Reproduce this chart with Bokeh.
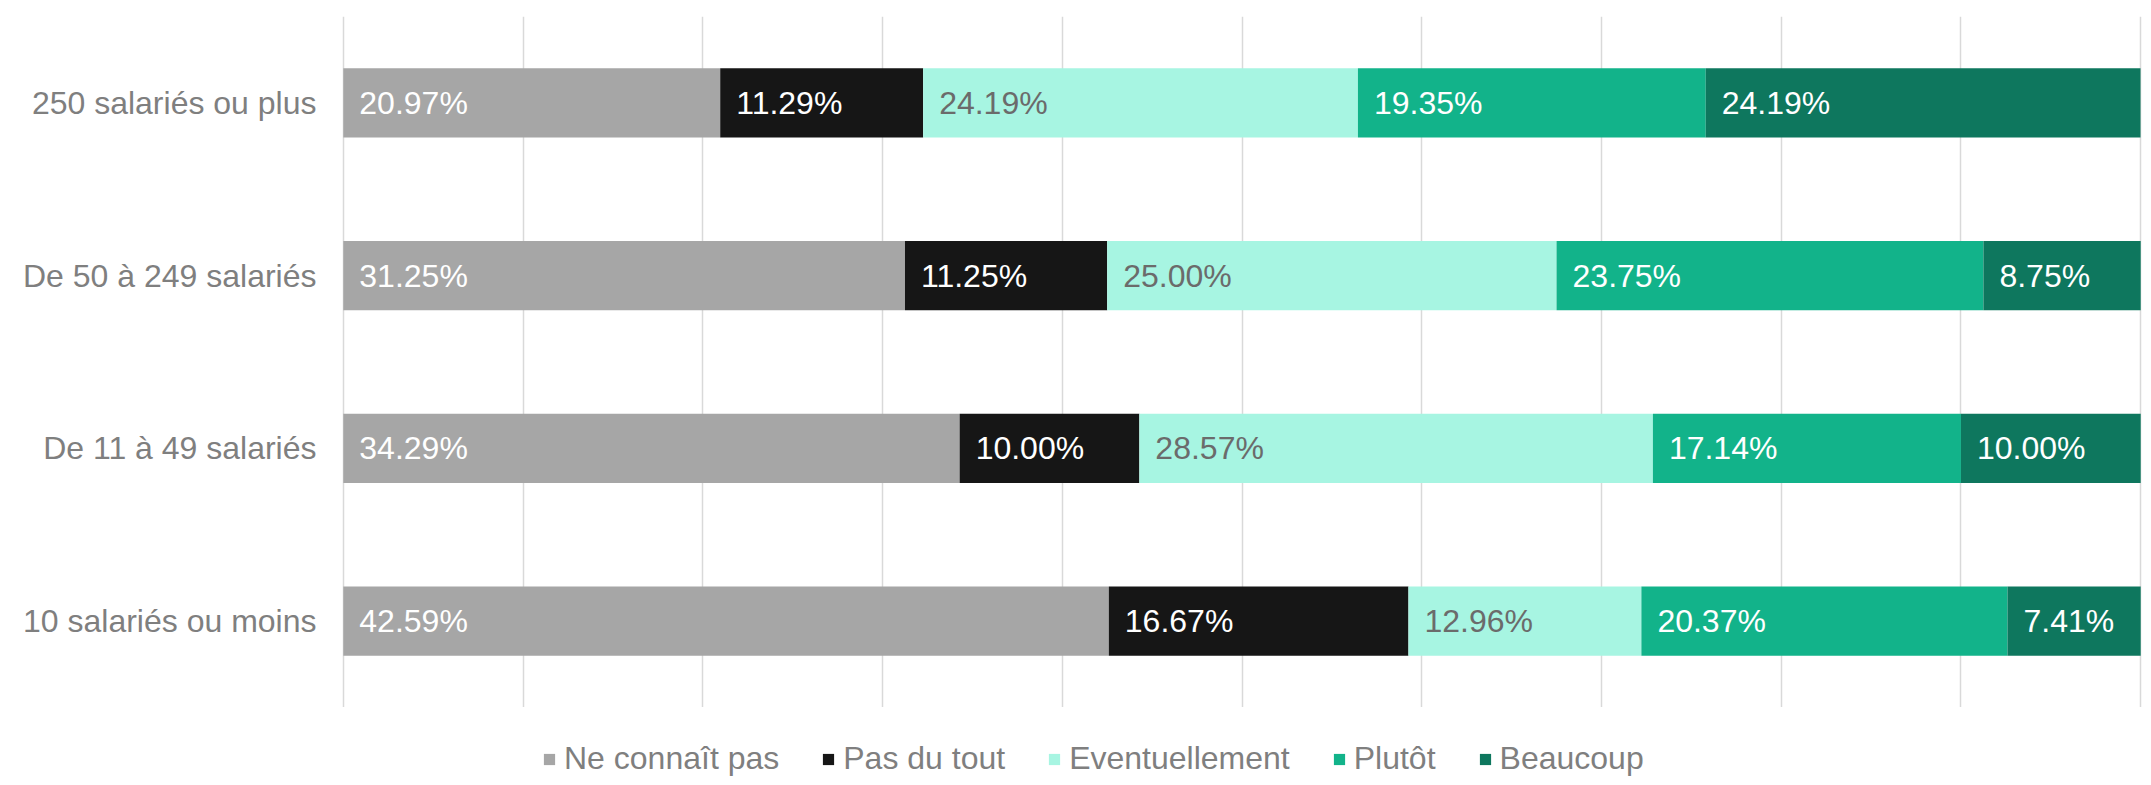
from bokeh.plotting import figure
from bokeh.layouts import column
from bokeh.models import ColumnDataSource, FactorRange, Range1d, FixedTicker, Legend, LegendItem
from bokeh.core.properties import value
from bokeh.embed import file_html
from bokeh.resources import INLINE

categories = ["250 salariés ou plus", "De 50 à 249 salariés", "De 11 à 49 salariés", "10 salariés ou moins"]
series = ["Ne connaît pas", "Pas du tout", "Eventuellement", "Plutôt", "Beaucoup"]
ne_connait_pas = [20.97, 31.25, 34.29, 42.59]
pas_du_tout = [11.29, 11.25, 10.00, 16.67]
eventuellement = [24.19, 25.00, 28.57, 12.96]
plutot = [19.35, 23.75, 17.14, 20.37]
beaucoup = [24.19, 8.75, 10.00, 7.41]
colors = ["#a6a6a6", "#161616", "#a7f5e2", "#12b38a", "#0e775e"]
label_colors = ["#ffffff", "#ffffff", "#6b6b6b", "#ffffff", "#ffffff"]
x_ticks = [0, 10, 20, 30, 40, 50, 60, 70, 80, 90, 100]

FONT = "Liberation Sans"
values = [ne_connait_pas, pas_du_tout, eventuellement, plutot, beaucoup]
keys = ["s0", "s1", "s2", "s3", "s4"]

data = {"cat": categories}
for k, v in zip(keys, values):
    data[k] = v
source = ColumnDataSource(data)

p = figure(width=2143, height=707, y_range=FactorRange(factors=categories[::-1]),
           x_range=Range1d(-0.1, 100.1), output_backend="svg", toolbar_location=None,
           min_border_left=341, min_border_right=1, min_border_top=16, min_border_bottom=0)

p.hbar_stack(keys, y="cat", height=0.4, color=colors, line_color=None, source=source)

# value labels
lx, ly, lt, lc = [], [], [], []
for i, cat in enumerate(categories):
    start = 0.0
    for s, v in enumerate(values):
        lx.append(start)
        ly.append(cat)
        lt.append(f"{v[i]:.2f}%")
        lc.append(label_colors[s])
        start += v[i]
lsrc = ColumnDataSource(dict(x=lx, y=ly, t=lt, c=lc))
p.text(x="x", y="y", text="t", text_color="c", source=lsrc, x_offset=16,
       text_align="left", text_baseline="middle",
       text_font=value(FONT), text_font_size="32px")

p.xaxis.visible = False
p.xgrid.ticker = FixedTicker(ticks=x_ticks)
p.xgrid.grid_line_color = "#d9d9d9"
p.xgrid.grid_line_width = 1.5
p.ygrid.grid_line_color = None

p.yaxis.axis_line_color = None
p.yaxis.major_tick_line_color = None
p.yaxis.minor_tick_line_color = None
p.yaxis.major_tick_out = 0
p.yaxis.major_label_standoff = 25
p.yaxis.major_label_text_font = FONT
p.yaxis.major_label_text_font_size = "32px"
p.yaxis.major_label_text_color = "#7f7f7f"
p.outline_line_color = None

# legend strip (zero-height bars, used only for the legend swatches)
q = figure(width=2143, height=77, x_range=Range1d(200, 300), y_range=FactorRange(factors=categories[::-1]),
           output_backend="svg", toolbar_location=None, min_border=0)
q.axis.visible = False
q.grid.visible = False
q.outline_line_color = None
dummies = q.hbar_stack(keys, y="cat", height=0, color=colors, line_color=None, source=source)
items = [LegendItem(label=s, renderers=[r]) for s, r in zip(series, dummies)]
legend = Legend(items=items, orientation="horizontal", location=(201, 7),
                glyph_width=14, glyph_height=14, label_standoff=8, spacing=42,
                padding=0, margin=0, border_line_color=None, background_fill_alpha=0,
                label_text_font=FONT, label_text_font_size="32px", label_text_color="#7f7f7f")
q.add_layout(legend, "center")

layout = column(p, q, spacing=0)
open("out.html", "w").write(file_html(layout, INLINE))
